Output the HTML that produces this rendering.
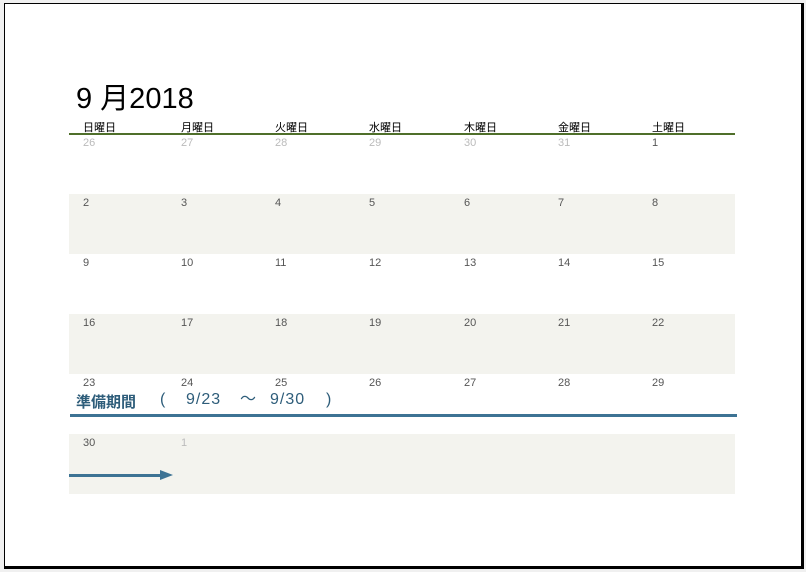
<!DOCTYPE html>
<html><head><meta charset="utf-8"><style>
body{margin:0;width:806px;height:572px;background:#f0f0f0;position:relative;overflow:hidden;font-family:"Liberation Sans","Noto Sans CJK JP",sans-serif}
#pg{position:absolute;left:4px;top:3px;width:796px;height:562px;background:#fff;border:1px solid #000;border-right:3px solid #000;border-bottom:3px solid #000}
.a{position:absolute}
.t{position:absolute;font-size:29px;color:#000;left:76px;top:75px;white-space:nowrap}
.h{position:absolute;font-size:11px;color:#000;top:119px}
.n{position:absolute;font-size:11px;color:#555}
.g{color:#bbb}
.band{position:absolute;left:69px;width:666px;height:60px;background:#f3f3ee}
.b{position:absolute;top:391px;font-size:16px;color:#2e5d7a;white-space:pre}
</style></head><body><div id="pg"></div>
<div class="t">9 月2018</div>
<div class="band" style="top:194px"></div>
<div class="band" style="top:314px"></div>
<div class="band" style="top:434px"></div>
<div class="a" style="left:69px;top:133px;width:666px;height:2px;background:#4f6f2a"></div>
<div id="c"></div>
<div class="b" style="left:76px;font-weight:bold;font-size:15px">準備期間</div>
<div class="b" style="left:160px">(</div>
<div class="b" style="left:186px;letter-spacing:1px">9/23</div>
<div class="b" style="left:240px;top:385px">～</div>
<div class="b" style="left:270px;letter-spacing:1px">9/30</div>
<div class="b" style="left:326px">)</div>
<div class="a" style="left:70px;top:414px;width:667px;height:3px;background:#3d7394"></div>
<div class="a" style="left:69px;top:474px;width:92px;height:3px;background:#3d7394"></div>
<div class="a" style="left:160px;top:470px;width:0;height:0;border-left:13px solid #3d7394;border-top:5.5px solid transparent;border-bottom:5.5px solid transparent"></div>
<script>
var xs=[83,181,275,369,464,558,652],d=["日曜日","月曜日","火曜日","水曜日","木曜日","金曜日","土曜日"],h="";
for(var i=0;i<7;i++)h+='<div class="h" style="left:'+xs[i]+'px">'+d[i]+'</div>';
var nums=[26,27,28,29,30,31,1],day=2;
for(var r=0;r<6;r++)for(var c=0;c<7;c++){var v,g=false;
if(r==0){v=nums[c];g=c<6}else{if(day>30){if(day==31){v=1;g=true;day++}else continue}else v=day++}
h+='<div class="n'+(g?' g':'')+'" style="left:'+xs[c]+'px;top:'+(137+r*60)+'px">'+v+'</div>';}
document.getElementById('c').innerHTML=h;
</script>
</body></html>
